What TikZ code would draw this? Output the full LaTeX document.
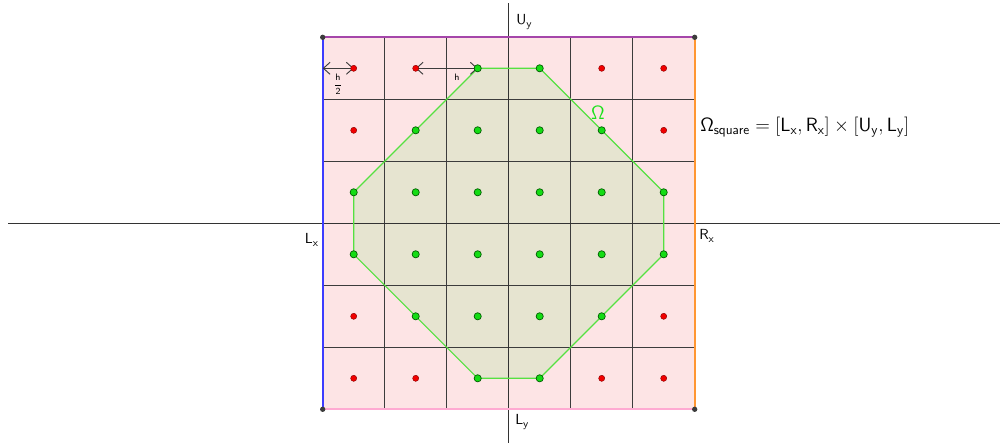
\documentclass[tikz,border=0pt]{standalone}
\usetikzlibrary{arrows.meta}
\definecolor{pinkfill}{RGB}{253,228,229}
\definecolor{olivefill}{RGB}{230,228,208}
\definecolor{octline}{RGB}{85,225,65}
\definecolor{gridc}{RGB}{60,60,60}
\definecolor{edgetop}{RGB}{165,70,170}
\definecolor{edgeleft}{RGB}{60,60,255}
\definecolor{edgeright}{RGB}{255,150,50}
\definecolor{edgebottom}{RGB}{255,170,210}
\definecolor{redpt}{RGB}{240,0,0}
\definecolor{redptd}{RGB}{130,0,0}
\definecolor{greenpt}{RGB}{20,220,20}
\definecolor{greenptd}{RGB}{0,90,0}
\definecolor{omegac}{RGB}{25,225,25}
\begin{document}
\begin{tikzpicture}[x=0.75pt,y=-0.75pt,
  gridline/.style={draw=gridc,line width=0.85pt},
  axisline/.style={draw=gridc!85!black,line width=0.9pt},
  edgeline/.style={line width=1.6pt},
  reddot/.style={circle,fill=redpt,draw=redptd,line width=0.3pt,inner sep=0pt,minimum size=4.6pt},
  greendot/.style={circle,fill=greenpt,draw=greenptd,line width=0.5pt,inner sep=0pt,minimum size=5.4pt},
  cornerdot/.style={circle,fill=gridc,inner sep=0pt,minimum size=4pt},
  measure/.style={draw=gridc,line width=0.7pt,{Straight Barb[length=5pt,width=9pt]}-{Straight Barb[length=5pt,width=9pt]}},
  axislabel/.style={font=\fontsize{11}{13}\selectfont,inner sep=0pt}
]
\useasboundingbox (0,0) rectangle (1000,443);
\def\Lx{322.7}\def\Ty{37.3}\def\cs{62}
% corners
\coordinate (TL) at (\Lx,\Ty);
\coordinate (TR) at (\Lx+6*\cs,\Ty);
\coordinate (BL) at (\Lx,\Ty+6*\cs);
\coordinate (BR) at (\Lx+6*\cs,\Ty+6*\cs);
% pink square
\fill[pinkfill] (TL) rectangle (BR);
% cell centres
\foreach \i in {1,...,6}{\foreach \j in {1,...,6}{
  \coordinate (c-\i-\j) at (\Lx+\cs*\i-\cs/2,\Ty+\cs*\j-\cs/2);}}
% octagon fill
\fill[olivefill] (c-3-1) -- (c-4-1) -- (c-6-3) -- (c-6-4) -- (c-4-6) -- (c-3-6) -- (c-1-4) -- (c-1-3) -- cycle;
% grid
\foreach \k in {1,2,4,5}{
  \draw[gridline] (\Lx+\k*\cs,\Ty) -- (\Lx+\k*\cs,\Ty+6*\cs);
  \draw[gridline] (\Lx,\Ty+\k*\cs) -- (\Lx+6*\cs,\Ty+\k*\cs);}
% axes
\coordinate (xa) at (8,\Ty+3*\cs);
\coordinate (xb) at (1000,\Ty+3*\cs);
\coordinate (ya) at (\Lx+3*\cs,3);
\coordinate (yb) at (\Lx+3*\cs,443);
\draw[axisline] (xa) -- (xb);
\draw[axisline] (ya) -- (yb);
% coloured edges
\draw[edgeline,edgetop] (TL) -- (TR);
\draw[edgeline,edgebottom] (BL) -- (BR);
\draw[edgeline,edgeleft] (TL) -- (BL);
\draw[edgeline,edgeright] (TR) -- (BR);
% octagon outline
\draw[octline,line width=0.9pt] (c-3-1) -- (c-4-1) -- (c-6-3) -- (c-6-4) -- (c-4-6) -- (c-3-6) -- (c-1-4) -- (c-1-3) -- cycle;
% measure arrows
\coordinate (hstart) at (\Lx,\Ty+\cs/2);
\draw[measure] (hstart) -- (c-1-1);
\draw[measure] (c-2-1) -- (c-3-1);
% dots
\foreach \i in {1,...,6}{\foreach \j in {1,...,6}{
  \pgfmathtruncatemacro\g{(abs(\i-3.5)+abs(\j-3.5))<3.1}
  \ifnum\g=1 \node[greendot] (p-\i-\j) at (c-\i-\j) {};
  \else \node[reddot] (p-\i-\j) at (c-\i-\j) {};\fi}}
\node[cornerdot] (k1) at (TL) {};
\node[cornerdot] (k2) at (TR) {};
\node[cornerdot] (k3) at (BL) {};
\node[cornerdot] (k4) at (BR) {};
% labels
\node[font=\fontsize{7.5}{8}\selectfont,inner sep=0pt] (hlab) at (457,77) {$\mathsf{h}$};
\node[font=\fontsize{7.5}{8}\selectfont,inner sep=0pt] (h2lab) at (338,84.5) {${\displaystyle\frac{\mathsf{h}}{\mathsf{2}}}$};
\node[text=omegac,font=\fontsize{13.5}{15}\selectfont,inner sep=0pt] (om) at (598,113) {$\mathsf{\Omega}$};
\node[anchor=west,font=\fontsize{14.2}{17}\selectfont,inner sep=0pt] (form) at (700,127) {$\mathsf{\Omega_{square} = [L_x, R_x] \times [U_y, L_y]}$};
\node[axislabel,anchor=west] (uy) at (516,22) {$\mathsf{U_y}$};
\node[axislabel,anchor=east] (lx) at (319,240) {$\mathsf{L_x}$};
\node[axislabel,anchor=west] (rx) at (699,236) {$\mathsf{R_x}$};
\node[axislabel,anchor=west] (ly) at (515,422) {$\mathsf{L_y}$};
\end{tikzpicture}
\end{document}
